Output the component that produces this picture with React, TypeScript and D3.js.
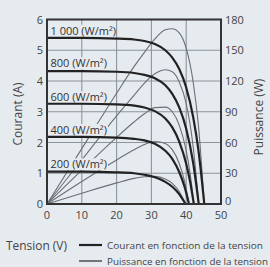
import { scaleLinear, line, curveMonotoneX } from "d3";

// irradiance labels
const levels = ["1 000 (W/m²)", "800 (W/m²)", "600 (W/m²)", "400 (W/m²)", "200 (W/m²)"];

// voltage points (V) and current (A) per curve
const volt1000 = [0, 10, 20, 25, 28, 31, 34, 36, 38, 40, 42, 43.5, 45.2];
const amp1000 = [5.4, 5.4, 5.38, 5.35, 5.3, 5.2, 5.0, 4.76, 4.39, 3.79, 2.83, 1.76, 0];
const watt1000 = [0, 54, 108, 134, 148, 161, 170, 171, 167, 152, 119, 77, 0];

const volt800 = [0, 10, 20, 25, 28, 31, 34, 36, 38, 40, 42, 43.6];
const amp800 = [4.32, 4.32, 4.3, 4.26, 4.2, 4.09, 3.86, 3.58, 3.14, 2.45, 1.34, 0];
const watt800 = [0, 43, 86, 106, 118, 127, 131, 129, 119, 98, 56, 0];

const volt600 = [0, 10, 20, 25, 28, 31, 34, 36, 38, 40, 41.2, 42.2];
const amp600 = [3.26, 3.26, 3.24, 3.2, 3.14, 3.02, 2.78, 2.49, 2.03, 1.31, 0.68, 0];
const watt600 = [0, 33, 65, 80, 88, 94, 94.5, 90, 77, 52, 28, 0];

const volt400 = [0, 10, 20, 25, 28, 31, 34, 36, 38, 39.5, 40.8];
const amp400 = [2.18, 2.18, 2.16, 2.12, 2.07, 1.96, 1.73, 1.47, 1.04, 0.57, 0];
const watt400 = [0, 22, 43, 53, 58, 61, 59, 53, 39.5, 22.5, 0];

const volt200 = [0, 10, 20, 25, 28, 31, 34, 36, 38, 39.8];
const amp200 = [1.05, 1.05, 1.03, 1.0, 0.95, 0.87, 0.72, 0.56, 0.32, 0];
const watt200 = [0, 10.5, 20.6, 25, 26.6, 27, 24.5, 20.2, 12.2, 0];

const volts = [volt1000, volt800, volt600, volt400, volt200];
const amps = [amp1000, amp800, amp600, amp400, amp200];
const watts = [watt1000, watt800, watt600, watt400, watt200];

const xTicks = [0, 10, 20, 30, 40, 50];
const ampTicks = [0, 1, 2, 3, 4, 5, 6];
const wattTicks = [0, 30, 60, 90, 120, 150, 180];

const labelY = [30.7, 63.3, 97.3, 130, 164.3];
const labelW = [66, 59, 59, 59, 59];

const BG = "#e6ebf0";
const FONT = "'Open Sans', 'Noto Sans', sans-serif";

const App = () => {
  const x = scaleLinear().domain([0, 50]).range([47, 221]);
  const yI = scaleLinear().domain([0, 6]).range([204, 19.5]);
  const yP = scaleLinear().domain([0, 180]).range([204, 19.5]);

  const iLine = line<[number, number]>()
    .x((d) => x(d[0]))
    .y((d) => yI(d[1]))
    .curve(curveMonotoneX);
  const pLine = line<[number, number]>()
    .x((d) => x(d[0]))
    .y((d) => yP(d[1]))
    .curve(curveMonotoneX);

  return (
    <svg
      width={270}
      height={267}
      style={{ position: "absolute", left: 0, top: 0, background: BG }}
      fontFamily={FONT}
    >
      <rect width={270} height={267} fill={BG} />
      {/* grid */}
      {xTicks.slice(1, -1).map((t) => (
        <line key={"gx" + t} x1={x(t)} x2={x(t)} y1={yI(0)} y2={yI(6)} stroke="#8d949b" strokeWidth={1.1} />
      ))}
      {ampTicks.slice(1, -1).map((t) => (
        <line key={"gy" + t} x1={x(0)} x2={x(50)} y1={yI(t)} y2={yI(t)} stroke="#8d949b" strokeWidth={1.1} />
      ))}

      {/* power curves */}
      {watts.map((w, i) => (
        <path
          key={"p" + i}
          d={pLine(volts[i].map((v, j) => [v, w[j]] as [number, number])) || ""}
          fill="none"
          stroke="#6a7076"
          strokeWidth={1.1}
        />
      ))}

      {/* irradiance labels */}
      {levels.map((l, i) => (
        <g key={"l" + i}>
          <rect x={49} y={labelY[i] - 6} width={labelW[i]} height={12} fill={BG} />
          <text x={50.5} y={labelY[i] + 4} fontSize={11} fill="#333">
            {l}
          </text>
        </g>
      ))}

      {/* current curves */}
      {amps.map((a, i) => (
        <path
          key={"i" + i}
          d={iLine(volts[i].map((v, j) => [v, a[j]] as [number, number])) || ""}
          fill="none"
          stroke="#222"
          strokeWidth={2.2}
        />
      ))}

      {/* frame */}
      <rect x={x(0)} y={yI(6)} width={x(50) - x(0)} height={yI(0) - yI(6)} fill="none" stroke="#333" strokeWidth={2} />

      {/* axes labels */}
      {ampTicks.map((t) => (
        <text key={"ta" + t} x={43} y={yI(t) + 4} fontSize={11} textAnchor="end" fill="#444">
          {t}
        </text>
      ))}
      {wattTicks.map((t) => (
        <text key={"tw" + t} x={225} y={yP(t) + (t === 0 ? 1 : 4)} fontSize={11} fill="#444">
          {t}
        </text>
      ))}
      {xTicks.map((t) => (
        <text key={"tx" + t} x={x(t)} y={219} fontSize={11} textAnchor="middle" fill="#444">
          {t}
        </text>
      ))}
      <text transform="translate(22,114) rotate(-90)" fontSize={12} textAnchor="middle" fill="#444">
        Courant (A)
      </text>
      <text transform="translate(263,117) rotate(-90)" fontSize={12} textAnchor="middle" fill="#444">
        Puissance (W)
      </text>

      {/* legend */}
      <text x={6} y={250} fontSize={12.5} fill="#444" textLength={61} lengthAdjust="spacingAndGlyphs">
        Tension (V)
      </text>
      <line x1={79} x2={102} y1={245} y2={245} stroke="#222" strokeWidth={2.2} />
      <line x1={79} x2={102} y1={261} y2={261} stroke="#444" strokeWidth={1.4} />
      <text x={107} y={248.5} fontSize={9.5} fill="#444" textLength={156} lengthAdjust="spacingAndGlyphs">
        Courant en fonction de la tension
      </text>
      <text x={107} y={264.5} fontSize={9.5} fill="#444" textLength={161} lengthAdjust="spacingAndGlyphs">
        Puissance en fonction de la tension
      </text>
    </svg>
  );
};

export default App;
